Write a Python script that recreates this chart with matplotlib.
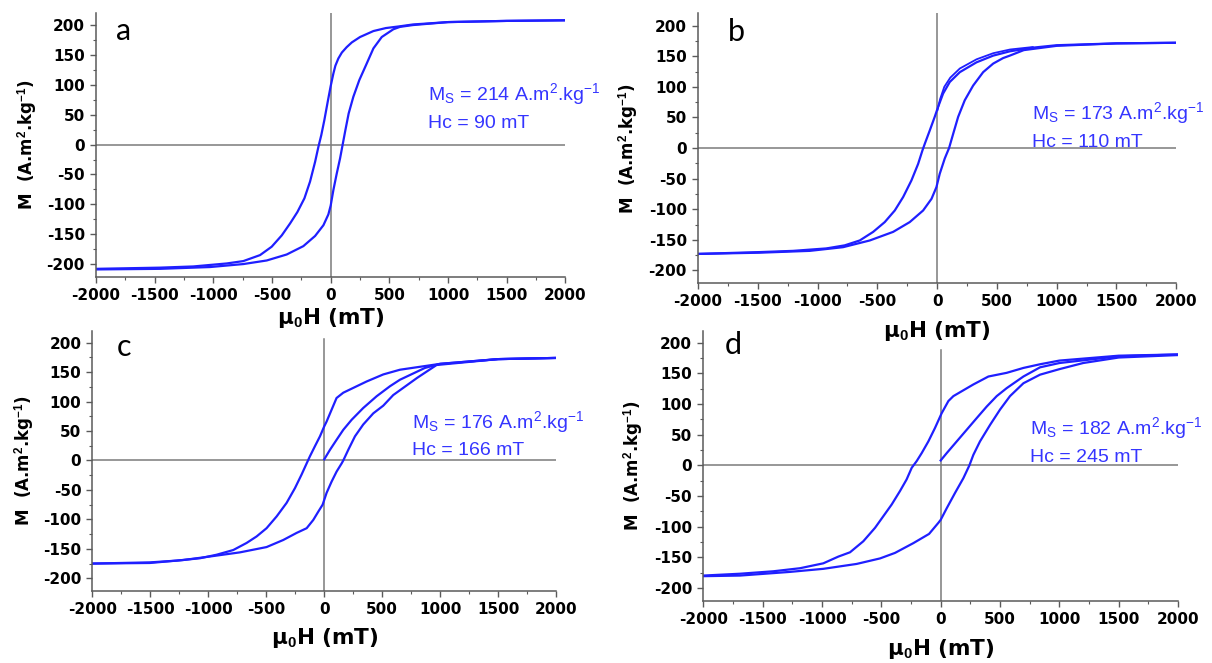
# Magnetic hysteresis loops, four samples (a-d)

import matplotlib
matplotlib.use('Agg')
import matplotlib.pyplot as plt
from matplotlib.ticker import MultipleLocator

# ---- data (mu0H in mT, M in A.m2/kg) ----
# panel a
a_down_h = [2000, 1500, 1000, 700, 591, 470, 364, 250, 180, 136, 95, 65, 40, 23, 0, -26, -54,
            -80, -105, -133, -176, -224, -284, -346, -417, -503, -602, -744, -886, -1170, -1454, -2000]
a_down_m = [208, 207, 205, 201, 198, 195, 190, 180, 171, 163, 154, 144, 132, 119, 98, 71, 41,
            16, -4, -29, -62, -90, -113, -132, -152, -171, -185, -195, -199, -204, -206, -208]
a_up_h = [-2000, -1454, -1028, -744, -545, -375, -233, -133, -62, -20, 0, 23, 51, 80, 102,
          125, 153, 193, 244, 301, 364, 435, 534, 591, 700, 1000, 1500, 2000]
a_up_m = [-209, -208, -205, -200, -194, -184, -170, -153, -135, -117, -102, -76, -49, -23, 0,
          24, 52, 80, 108, 133, 161, 180, 193, 197, 200, 205, 207, 208]

# panel b
b_down_h = [2000, 1500, 1000, 800, 608, 469, 329, 190, 106, 50, 8, -20, -61, -103, -123,
            -159, -215, -284, -354, -438, -535, -647, -773, -926, -1205, -1484, -2000]
b_down_m = [172, 171, 168, 164, 158, 151, 140, 124, 108, 89, 67, 51, 29, 7, -4,
            -26, -53, -80, -102, -121, -137, -151, -159, -164, -168, -170, -173]
b_up_h = [-2000, -1484, -1065, -787, -563, -368, -229, -117, -47, -6, 22, 64, 100, 134,
          176, 231, 301, 385, 469, 552, 608, 725, 1000, 1500, 2000]
b_up_m = [-173, -171, -168, -162, -151, -137, -121, -102, -83, -64, -42, -17, 0, 23,
          51, 78, 102, 124, 138, 147, 151, 160, 167, 171, 172]
b_init_h = [3, 25, 60, 110, 190, 330, 470, 610, 800]
b_init_m = [62, 80, 100, 115, 130, 145, 155, 161, 165]

# panel c
c_down_h = [2000, 1500, 1000, 653, 509, 365, 164, 106, 63, 20, 0, -37, -81, -124, -152,
            -196, -253, -325, -411, -498, -584, -670, -785, -929, -1073, -1274, -1504, -2000]
c_down_m = [174, 172, 164, 154, 146, 134, 115, 106, 86, 66, 58, 41, 24, 7, -5,
            -24, -47, -72, -95, -115, -129, -140, -152, -160, -166, -170, -173, -175]
c_up_h = [-2000, -1504, -1217, -986, -728, -498, -354, -239, -152, -95, -52, -14, 20, 63,
          106, 150, 164, 207, 265, 336, 423, 509, 595, 800, 969, 1500, 2000]
c_up_m = [-175, -174, -169, -163, -156, -147, -135, -123, -115, -101, -87, -75, -55, -36,
          -19, -5, 0, 18, 41, 61, 80, 93, 111, 140, 162, 172, 174]
c_init_h = [0, 49, 106, 164, 236, 336, 452, 567, 653, 868, 1000, 1500, 2000]
c_init_m = [2, 18, 35, 52, 69, 89, 109, 126, 137, 157, 164, 172, 174]

# panel d
d_down_h = [2000, 1500, 1000, 837, 697, 556, 402, 275, 107, 65, 8, -48, -104, -160, -202,
            -244, -287, -343, -413, -483, -553, -652, -764, -862, -989, -1185, -1410, -1691, -2000]
d_down_m = [181, 179, 171, 165, 159, 151, 145, 132, 113, 105, 85, 61, 39, 20, 7,
            -4, -23, -42, -64, -83, -102, -124, -142, -149, -160, -168, -173, -177, -180]
d_up_h = [-2000, -1691, -1270, -989, -708, -511, -385, -230, -98, -20, 0, 51, 121, 191, 242,
          275, 331, 416, 500, 584, 697, 837, 1000, 1200, 1500, 2000]
d_up_m = [-181, -180, -174, -169, -161, -152, -143, -127, -112, -94, -89, -70, -45, -21, 0,
          17, 39, 66, 91, 113, 134, 148, 157, 167, 176, 180]
d_init_h = [0, 51, 135, 219, 303, 388, 472, 556, 697, 837, 1000, 1500, 2000]
d_init_m = [8, 20, 39, 58, 77, 96, 113, 126, 145, 160, 167, 178, 181]

letters = ['a', 'b', 'c', 'd']
ms_values = [214, 173, 176, 182]
hc_values = [90, 110, 166, 245]

LINE = '#1f1fff'
TEXT_BLUE = '#3535ff'
GREY = '#7a7a7a'

plt.rcParams['font.family'] = 'DejaVu Sans'
plt.rcParams['axes.unicode_minus'] = False
plt.rcParams['mathtext.fontset'] = 'custom'
plt.rcParams['mathtext.rm'] = 'Liberation Sans'
plt.rcParams['mathtext.it'] = 'Liberation Sans:italic'
plt.rcParams['mathtext.bf'] = 'Liberation Sans:bold'


def setup(ax, vtop):
    ax.set_xlim(-2000, 2000)
    ax.set_ylim(-221, 220)
    ax.patch.set_visible(False)
    for s in ['top', 'right']:
        ax.spines[s].set_visible(False)
    for s in ['left', 'bottom']:
        ax.spines[s].set_color('#5a5a5a')
        ax.spines[s].set_linewidth(1.1)
    ax.xaxis.set_major_locator(MultipleLocator(500))
    ax.xaxis.set_minor_locator(MultipleLocator(250))
    ax.yaxis.set_major_locator(MultipleLocator(50))
    ax.yaxis.set_minor_locator(MultipleLocator(25))
    ax.tick_params(which='major', direction='out', length=4, width=1, color='#5a5a5a',
                   labelsize=11, pad=4)
    ax.tick_params(which='minor', direction='out', length=2.5, width=0.8, color='#5a5a5a')
    for lab in ax.get_xticklabels() + ax.get_yticklabels():
        lab.set_fontweight('bold')
    ax.axhline(0, color=GREY, lw=1.1, zorder=1)
    ax.plot([0, 0], [-221, vtop], color=GREY, lw=1.1, zorder=1)


def annotate(ax, i, x, y1, y2):
    ax.text(x, y1, 'M$_\\mathrm{S}$ = %d A.m$^\\mathrm{2}$.kg$^\\mathrm{-1}$' % ms_values[i],
            color=TEXT_BLUE, fontsize=14, va='baseline', family='Liberation Sans')
    ax.text(x, y2, 'Hc = %d mT' % hc_values[i], color=TEXT_BLUE, fontsize=14,
            va='baseline', family='Liberation Sans')


fig = plt.figure(figsize=(12.12, 6.63), dpi=100)

ax_a = fig.add_axes([0.0792, 0.5828, 0.3873, 0.3974])
ax_b = fig.add_axes([0.5759, 0.5727, 0.3946, 0.4071])
ax_c = fig.add_axes([0.0763, 0.1091, 0.3825, 0.3919])
ax_d = fig.add_axes([0.5803, 0.0940, 0.3917, 0.4074])

setup(ax_a, 220)
setup(ax_b, 220)
setup(ax_c, 206)
setup(ax_d, 189)

ax_a.plot(a_down_h, a_down_m, color=LINE, lw=1.6)
ax_a.plot(a_up_h, a_up_m, color=LINE, lw=1.6)

ax_b.plot(b_down_h, b_down_m, color=LINE, lw=1.6)
ax_b.plot(b_up_h, b_up_m, color=LINE, lw=1.6)
ax_b.plot(b_init_h, b_init_m, color=LINE, lw=1.3)

ax_c.plot(c_down_h, c_down_m, color=LINE, lw=1.6)
ax_c.plot(c_up_h, c_up_m, color=LINE, lw=1.6)
ax_c.plot(c_init_h, c_init_m, color=LINE, lw=1.6)

ax_d.plot(d_down_h, d_down_m, color=LINE, lw=1.6)
ax_d.plot(d_up_h, d_up_m, color=LINE, lw=1.6)
ax_d.plot(d_init_h, d_init_m, color=LINE, lw=1.6)

annotate(ax_a, 0, 832, 74, 27)
annotate(ax_b, 1, 793, 48, 2)
annotate(ax_c, 2, 757, 55, 9)
annotate(ax_d, 3, 753, 51, 5)

letter_pos = [(-1830, 175), (-1752, 175), (-1792, 177), (-1817, 181)]
label_y = [-0.157, -0.177, -0.182, -0.179]
for i, ax in enumerate([ax_a, ax_b, ax_c, ax_d]):
    ax.text(letter_pos[i][0], letter_pos[i][1], letters[i], fontsize=22, va='baseline',
            family='Lato')
    ax.set_xlabel('μ$_\\mathbf{0}$H (mT)', fontsize=15.5, fontweight='bold', va='center')
    ax.xaxis.set_label_coords(0.5, label_y[i])
    ax.set_ylabel('M  (A.m$^\\mathbf{2}$.kg$^\\mathbf{-1}$)', fontsize=12,
                  fontweight='bold', va='center')
    ax.yaxis.set_label_coords(-0.147, 0.5)

fig.savefig('out.png', dpi=100)
